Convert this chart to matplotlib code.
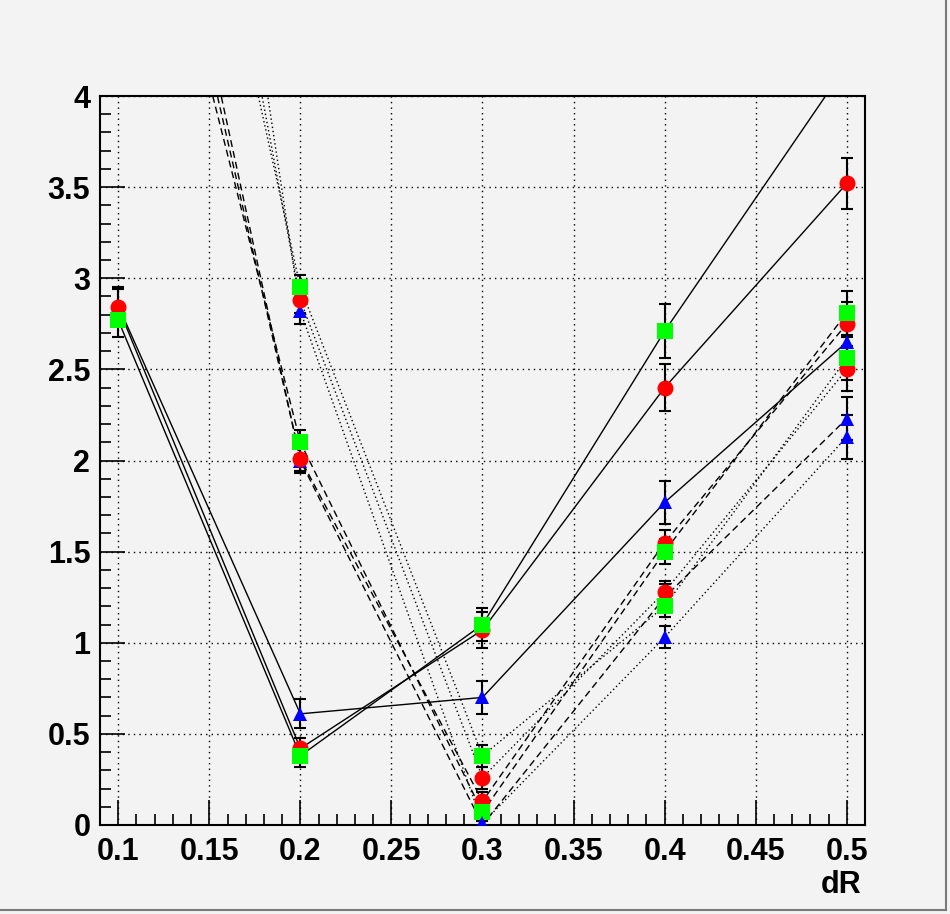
import matplotlib
matplotlib.use("Agg")
import matplotlib.pyplot as plt
from matplotlib.ticker import MultipleLocator
from matplotlib.lines import Line2D

plt.rcParams['font.family'] = ['Liberation Sans', 'DejaVu Sans']

# dR values and graph points
dR = [0.1, 0.2, 0.3, 0.4, 0.5]

solid_green = [2.77, 0.38, 1.10, 2.71, 4.17]
solid_red = [2.84, 0.42, 1.07, 2.40, 3.52]
solid_blue = [2.85, 0.61, 0.70, 1.77, 2.65]
dashed_green = [6.05, 2.10, 0.07, 1.50, 2.81]
dashed_red = [6.38, 2.01, 0.13, 1.55, 2.75]
dashed_blue = [6.60, 2.00, 0.00, 1.25, 2.23]
dotted_green = [7.50, 2.95, 0.38, 1.20, 2.56]
dotted_red = [8.20, 2.88, 0.26, 1.28, 2.50]
dotted_blue = [9.40, 2.82, 0.01, 1.03, 2.13]

# errors
err_solid_green = [0.09, 0.06, 0.09, 0.15, 0.15]
err_solid_red = [0.10, 0.06, 0.10, 0.13, 0.14]
err_solid_blue = [0.10, 0.08, 0.09, 0.12, 0.12]
err_dashed = [0.10, 0.07, 0.05, 0.07, 0.12]
err_dotted = [0.10, 0.07, 0.06, 0.06, 0.12]

xticks = [0.1, 0.15, 0.2, 0.25, 0.3, 0.35, 0.4, 0.45, 0.5]
xticklabels = ["0.1", "0.15", "0.2", "0.25", "0.3", "0.35", "0.4", "0.45", "0.5"]
yticks = [0, 0.5, 1, 1.5, 2, 2.5, 3, 3.5, 4]
yticklabels = ["0", "0.5", "1", "1.5", "2", "2.5", "3", "3.5", "4"]

bg = '#f3f3f3'
fig = plt.figure(figsize=(9.5, 9.14), dpi=100, facecolor=bg)
ax = fig.add_axes([100 / 950, 1 - 825 / 914, 765 / 950, 729 / 914])
ax.set_facecolor(bg)

# canvas border on the right and bottom, like the ROOT canvas
fig.add_artist(Line2D([0.996, 0.996], [0.004, 1.0], transform=fig.transFigure,
                      color='#7a7a7a', linewidth=1.5))
fig.add_artist(Line2D([0.0, 0.996], [0.004, 0.004], transform=fig.transFigure,
                      color='#7a7a7a', linewidth=1.5))

styles = {'solid': '-', 'dashed': (0, (5, 3)), 'dotted': (0, (1, 2))}
series = [
    (solid_blue, err_solid_blue, 'solid', 'blue', '^'),
    (solid_red, err_solid_red, 'solid', 'red', 'o'),
    (solid_green, err_solid_green, 'solid', '#00ff00', 's'),
    (dashed_blue, err_dashed, 'dashed', 'blue', '^'),
    (dashed_red, err_dashed, 'dashed', 'red', 'o'),
    (dashed_green, err_dashed, 'dashed', '#00ff00', 's'),
    (dotted_blue, err_dotted, 'dotted', 'blue', '^'),
    (dotted_red, err_dotted, 'dotted', 'red', 'o'),
    (dotted_green, err_dotted, 'dotted', '#00ff00', 's'),
]

z = 3
for vals, errs, ls, col, mk in series:
    ax.plot(dR, vals, color='black', linestyle=styles[ls], linewidth=1.0, zorder=2)
    ax.errorbar(dR, vals, yerr=errs, fmt='none', ecolor='black', elinewidth=1.5,
                capsize=4, capthick=1.5, zorder=2.5)
    ms = 11.5 if mk != '^' else 10.5
    ax.plot(dR, vals, linestyle='none', marker=mk, color=col, markersize=ms,
            markeredgewidth=0, zorder=z)
    z += 0.1

ax.set_xlim(0.09, 0.51)
ax.set_ylim(0, 4)
ax.set_xticks(xticks)
ax.set_xticklabels(xticklabels)
ax.set_yticks(yticks)
ax.set_yticklabels(yticklabels)
ax.xaxis.set_minor_locator(MultipleLocator(0.01))
ax.yaxis.set_minor_locator(MultipleLocator(0.1))

ax.grid(True, which='major', color='black', linestyle=(0, (1, 3)), linewidth=1.0)
ax.set_axisbelow(True)

ax.tick_params(which='both', direction='in', top=False, right=False, width=1.2,
               labelsize=22)
ax.tick_params(which='major', length=18)
ax.tick_params(which='minor', length=8)
ax.tick_params(axis='x', pad=9)
ax.tick_params(axis='y', pad=7)
for lab in ax.get_xticklabels() + ax.get_yticklabels():
    lab.set_fontweight('bold')

for s in ax.spines.values():
    s.set_linewidth(1.5)

ax.text(0.995, -0.062, "dR", transform=ax.transAxes, ha='right', va='top',
        fontsize=22, fontweight='bold')

plt.savefig('out.png', dpi=100, facecolor=bg)
